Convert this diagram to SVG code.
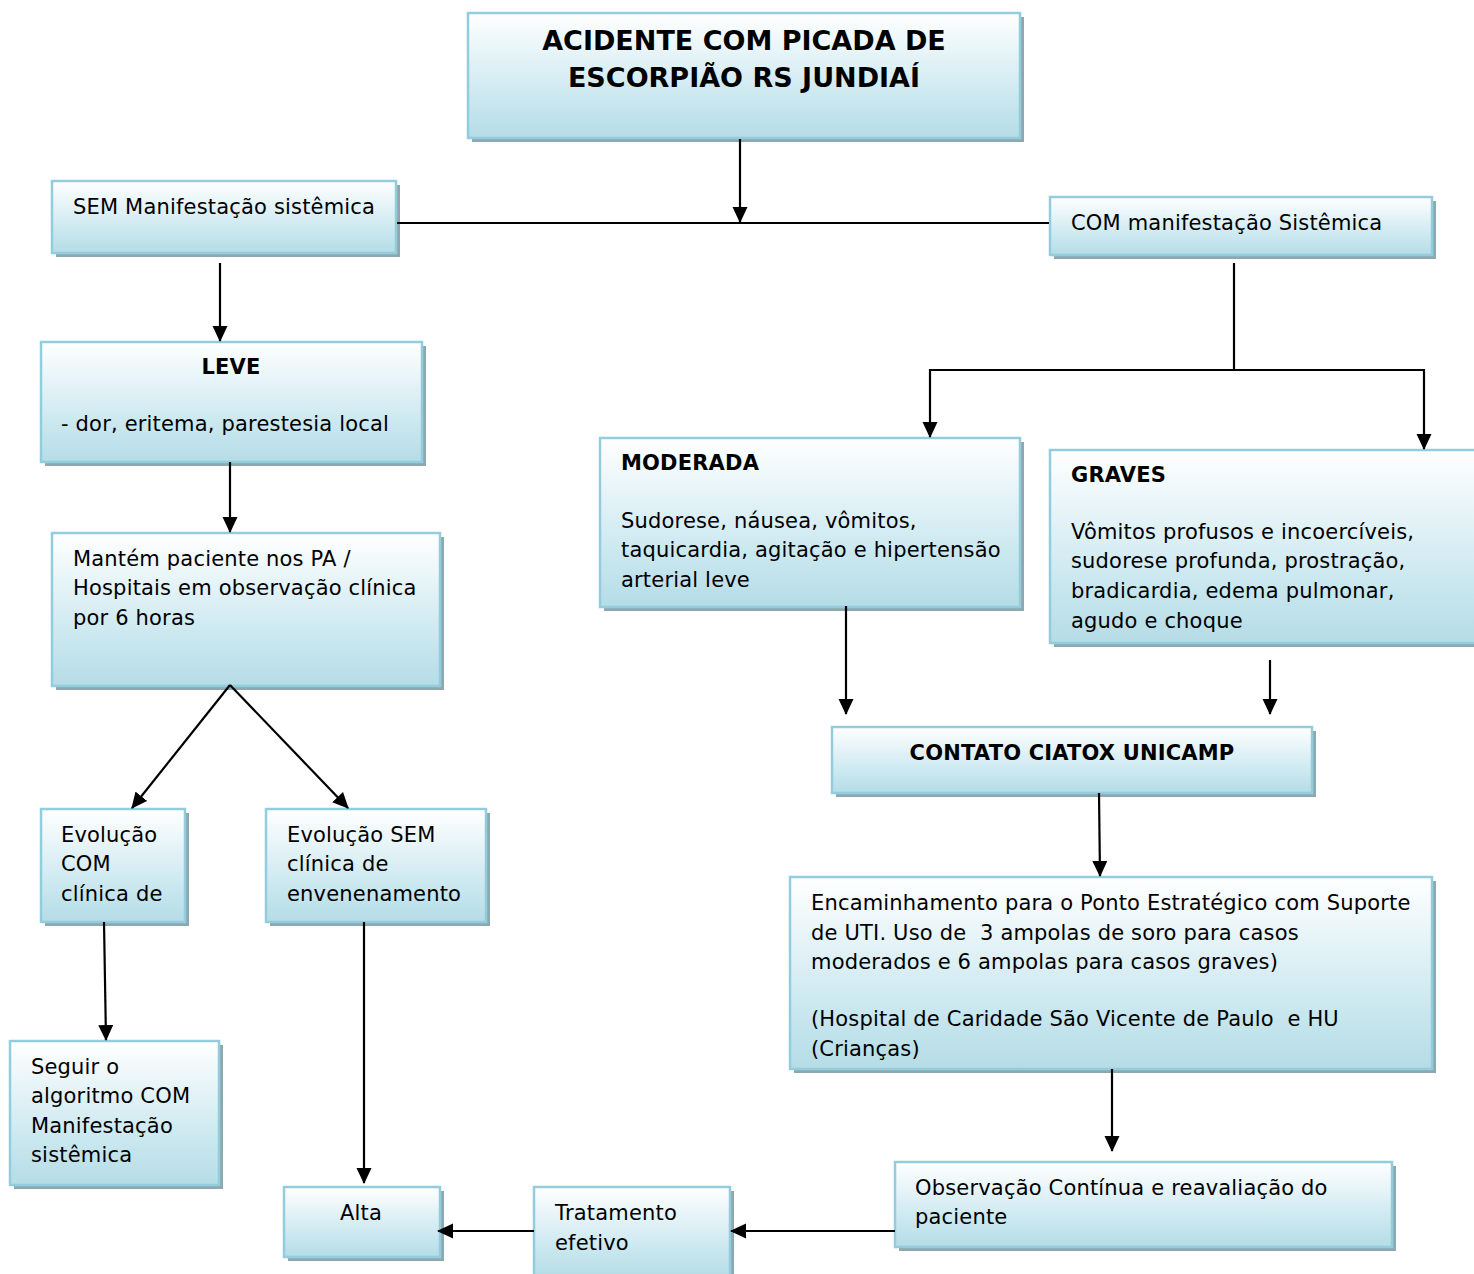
<svg xmlns="http://www.w3.org/2000/svg" width="1474" height="1274" viewBox="0 0 1474 1274">
<defs>
<linearGradient id="g" x1="0" y1="0" x2="0" y2="1">
<stop offset="0" stop-color="#ffffff"/>
<stop offset="0.7" stop-color="#c9e7ef"/>
<stop offset="1" stop-color="#b5dce6"/>
</linearGradient>
<marker id="ah" viewBox="0 0 16 16" refX="15" refY="8" markerWidth="16" markerHeight="16" markerUnits="userSpaceOnUse" orient="auto">
<path d="M0,0.5 L16,8 L0,15.5 z" fill="#000"/>
</marker>
<style>
.sh{fill:#8ea8b0}
.bx{fill:url(#g);stroke:#93cddd;stroke-width:2.5}
text{font-family:"DejaVu Sans","Verdana",sans-serif;font-size:21px;fill:#000;letter-spacing:0.18px;white-space:pre}
.b{font-weight:bold}
.t{font-size:27px;font-weight:bold;letter-spacing:0}
.c{fill:none;stroke:#000;stroke-width:2.2}
.a{marker-end:url(#ah)}
</style>
</defs>
<rect width="1474" height="1274" fill="#fff"/>

<g id="title">
<rect class="sh" x="472" y="17" width="552" height="125"/>
<rect class="bx" x="468" y="13" width="552" height="125"/>
<text class="t" x="744" y="50" text-anchor="middle">ACIDENTE COM PICADA DE</text>
<text class="t" x="744" y="87" text-anchor="middle">ESCORPIÃO RS JUNDIAÍ</text>
</g>

<g id="sem">
<rect class="sh" x="56" y="185" width="344" height="72"/>
<rect class="bx" x="52" y="181" width="344" height="72"/>
<text x="73" y="214">SEM Manifestação sistêmica</text>
</g>

<g id="com">
<rect class="sh" x="1054" y="201" width="382" height="58"/>
<rect class="bx" x="1050" y="197" width="382" height="58"/>
<text x="1071" y="230">COM manifestação Sistêmica</text>
</g>

<g id="leve">
<rect class="sh" x="45" y="346" width="381" height="120"/>
<rect class="bx" x="41" y="342" width="381" height="120"/>
<text class="b" x="231" y="374" text-anchor="middle">LEVE</text>
<text x="61" y="431">- dor, eritema, parestesia local</text>
</g>

<g id="mantem">
<rect class="sh" x="56" y="537" width="388" height="153"/>
<rect class="bx" x="52" y="533" width="388" height="153"/>
<text x="73" y="566">Mantém paciente nos PA /</text>
<text x="73" y="595">Hospitais em observação clínica</text>
<text x="73" y="625">por 6 horas</text>
</g>

<g id="evol-com">
<rect class="sh" x="45" y="813" width="144" height="113"/>
<rect class="bx" x="41" y="809" width="144" height="113"/>
<text x="61" y="842">Evolução</text>
<text x="61" y="871">COM</text>
<text x="61" y="901">clínica de</text>
</g>

<g id="evol-sem">
<rect class="sh" x="270" y="813" width="220" height="113"/>
<rect class="bx" x="266" y="809" width="220" height="113"/>
<text x="287" y="842">Evolução SEM</text>
<text x="287" y="871">clínica de</text>
<text x="287" y="901">envenenamento</text>
</g>

<g id="seguir">
<rect class="sh" x="14" y="1045" width="209" height="144"/>
<rect class="bx" x="10" y="1041" width="209" height="144"/>
<text x="31" y="1074">Seguir o</text>
<text x="31" y="1103">algoritmo COM</text>
<text x="31" y="1133">Manifestação</text>
<text x="31" y="1162">sistêmica</text>
</g>

<g id="alta">
<rect class="sh" x="288" y="1191" width="156" height="70"/>
<rect class="bx" x="284" y="1187" width="156" height="70"/>
<text x="361" y="1220" text-anchor="middle">Alta</text>
</g>

<g id="tratamento">
<rect class="sh" x="538" y="1191" width="196" height="90"/>
<rect class="bx" x="534" y="1187" width="196" height="90"/>
<text x="555" y="1220">Tratamento</text>
<text x="555" y="1250">efetivo</text>
</g>

<g id="observacao">
<rect class="sh" x="899" y="1166" width="497" height="85"/>
<rect class="bx" x="895" y="1162" width="497" height="85"/>
<text x="915" y="1195">Observação Contínua e reavaliação do</text>
<text x="915" y="1224">paciente</text>
</g>

<g id="moderada">
<rect class="sh" x="604" y="442" width="420" height="169"/>
<rect class="bx" x="600" y="438" width="420" height="169"/>
<text class="b" x="621" y="470">MODERADA</text>
<text x="621" y="528">Sudorese, náusea, vômitos,</text>
<text x="621" y="557">taquicardia, agitação e hipertensão</text>
<text x="621" y="587">arterial leve</text>
</g>

<g id="graves">
<rect class="sh" x="1054" y="454" width="430" height="193"/>
<rect class="bx" x="1050" y="450" width="430" height="193"/>
<text class="b" x="1071" y="482">GRAVES</text>
<text x="1071" y="539">Vômitos profusos e incoercíveis,</text>
<text x="1071" y="568">sudorese profunda, prostração,</text>
<text x="1071" y="598">bradicardia, edema pulmonar,</text>
<text x="1071" y="628">agudo e choque</text>
</g>

<g id="ciatox">
<rect class="sh" x="836" y="731" width="480" height="66"/>
<rect class="bx" x="832" y="727" width="480" height="66"/>
<text class="b" x="1072" y="760" text-anchor="middle">CONTATO CIATOX UNICAMP</text>
</g>

<g id="encaminhamento">
<rect class="sh" x="794" y="881" width="642" height="192"/>
<rect class="bx" x="790" y="877" width="642" height="192"/>
<text x="811" y="910">Encaminhamento para o Ponto Estratégico com Suporte</text>
<text x="811" y="940">de UTI. Uso de  3 ampolas de soro para casos</text>
<text x="811" y="969">moderados e 6 ampolas para casos graves)</text>
<text x="811" y="1026">(Hospital de Caridade São Vicente de Paulo  e HU</text>
<text x="811" y="1056">(Crianças)</text>
</g>

<g id="connectors">
<line class="c a" x1="740" y1="139" x2="740" y2="222"/>
<line class="c" x1="397" y1="223" x2="1049" y2="223"/>
<line class="c a" x1="220" y1="263" x2="220" y2="341"/>
<line class="c a" x1="230" y1="462" x2="230" y2="532"/>
<line class="c a" x1="230" y1="685" x2="132" y2="808"/>
<line class="c a" x1="230" y1="685" x2="348" y2="808"/>
<line class="c a" x1="104" y1="922" x2="106" y2="1040"/>
<line class="c a" x1="364" y1="922" x2="364" y2="1183"/>
<line class="c a" x1="534" y1="1231" x2="438" y2="1231"/>
<line class="c a" x1="895" y1="1231" x2="731" y2="1231"/>
<polyline class="c" points="1234,263 1234,370"/>
<polyline class="c a" points="1234,370 930,370 930,437"/>
<polyline class="c a" points="1234,370 1424,370 1424,449"/>
<line class="c a" x1="846" y1="606" x2="846" y2="714"/>
<line class="c a" x1="1270" y1="660" x2="1270" y2="714"/>
<line class="c a" x1="1099" y1="793" x2="1100" y2="876"/>
<line class="c a" x1="1112" y1="1069" x2="1112" y2="1151"/>
</g>
</svg>
